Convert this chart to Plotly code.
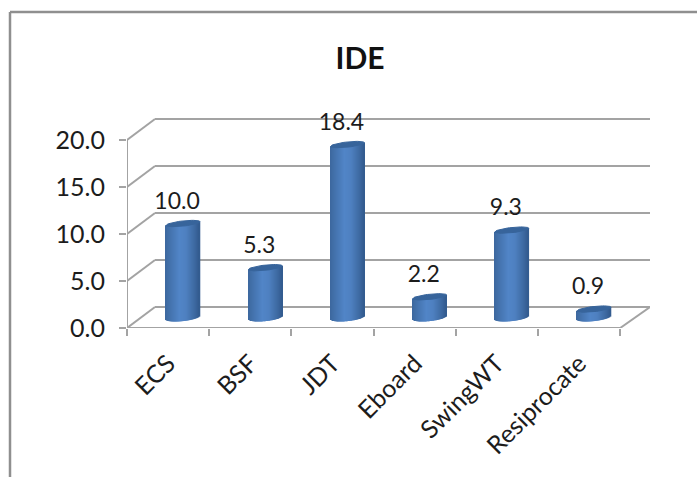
import math
import plotly.graph_objects as go

# Chart content
title = "IDE"
categories = ["ECS", "BSF", "JDT", "Eboard", "SwingWT", "Resiprocate"]
values = [10.0, 5.3, 18.4, 2.2, 9.3, 0.9]
value_ticks = [0, 5, 10, 15, 20]
value_tick_labels = ["0.0", "5.0", "10.0", "15.0", "20.0"]

# Page and plot geometry, in pixels
W, H = 697, 477
LEFT, RIGHT, TOP, BOTTOM = 127, 650, 118, 328
CELL_PX = 82.2           # width of one category
UNIT_PX = 9.4            # height of one value unit
DEPTH_X_PX, DEPTH_Y_PX = 28, 21
RADIUS_PX = 17.0         # cylinder half width
TOP_B_PX = 2.6           # minor half axis of the top cap
BASE_B_PX = 3.6          # minor half axis of the rounded foot
TILT = 0.105             # ends lean up to the right
COLUMN_SHIFT_PX = 15     # cylinders stand mid-way into the floor

dx = 1 / CELL_PX
dy = 1 / UNIT_PX
x_range = [-0.5, -0.5 + (RIGHT - LEFT) * dx]
y_range = [0, (BOTTOM - TOP) * dy]
n = len(categories)
floor_mid = DEPTH_Y_PX / 2 * dy


def shade(t):
    """Blue of the cylinder wall at t in 0..1 from left edge to right edge."""
    stops = [(0.0, (60, 103, 158)), (0.12, (66, 112, 170)), (0.42, (81, 133, 199)),
             (0.62, (78, 128, 192)), (0.86, (62, 106, 162)), (1.0, (50, 90, 142))]
    for (t0, c0), (t1, c1) in zip(stops, stops[1:]):
        if t <= t1:
            f = (t - t0) / (t1 - t0)
            return "rgb(%d,%d,%d)" % tuple(round(a + (b - a) * f) for a, b in zip(c0, c1))
    return "rgb(50,90,142)"


WIRE = "#a3a3a3"
shapes = []


def wire(x0, y0, x1, y1):
    shapes.append(dict(type="line", xref="x", yref="y", x0=x0, y0=y0, x1=x1, y1=y1,
                       layer="below", line=dict(color=WIRE, width=2)))


# Walls: each gridline runs back from the value axis, then along the back wall
back_x = -0.5 + DEPTH_X_PX * dx
back_right = x_range[1]
front_right = n - 0.5
for v in value_ticks:
    wire(-0.5, v, back_x, v + DEPTH_Y_PX * dy)
    wire(back_x, v + DEPTH_Y_PX * dy, back_right, v + DEPTH_Y_PX * dy)
wire(front_right, 0, back_right, DEPTH_Y_PX * dy)
wire(-0.5, 0, -0.5, value_ticks[-1])
wire(-0.5, 0, front_right, 0)

# Cylinder walls, as thin vertical strips that end on the lower ellipse edge
strip_x, strip_base, strip_h, strip_c = [], [], [], []
STRIPS = 34
for i, v in enumerate(values):
    cx = i + COLUMN_SHIFT_PX * dx
    for s in range(STRIPS):
        t = (s + 0.5) / STRIPS
        off = (2 * t - 1) * RADIUS_PX
        lean = TILT * off * dy
        sag = BASE_B_PX * math.sqrt(max(0, 1 - (off / RADIUS_PX) ** 2)) * dy
        strip_x.append(cx + off * dx)
        strip_base.append(floor_mid + lean - sag)
        strip_h.append(v + sag)
        strip_c.append(shade(t))

fig = go.Figure()
fig.add_trace(go.Bar(
    x=strip_x, y=strip_h, base=strip_base,
    width=[2 * RADIUS_PX / STRIPS * dx * 1.35] * len(strip_x),
    marker=dict(color=strip_c, line=dict(width=0)),
    hoverinfo="skip", showlegend=False,
))

# Dark top cap of every cylinder
for i, v in enumerate(values):
    cx = i + COLUMN_SHIFT_PX * dx
    px, py = [], []
    for k in range(49):
        a = 2 * math.pi * k / 48
        ox = RADIUS_PX * math.cos(a)
        oy = TOP_B_PX * math.sin(a) + TILT * ox
        px.append(cx + ox * dx)
        py.append(floor_mid + v + oy * dy)
    fig.add_trace(go.Scatter(
        x=px, y=py, mode="lines", fill="toself", fillcolor="#37649b",
        line=dict(color="#37649b", width=1), hoverinfo="skip", showlegend=False,
    ))

# Value labels above the cylinders
fig.add_trace(go.Scatter(
    x=[i + 9 * dx for i in range(n)],
    y=[floor_mid + v + 20.5 * dy for v in values],
    mode="text", text=["%.1f" % v for v in values], textposition="middle center",
    textfont=dict(family="Lato", size=23, color="#1c1c1c"),
    cliponaxis=False, hoverinfo="skip", showlegend=False,
))

# Outer frame, open at the right and bottom
fx = lambda p: (p - LEFT) / (RIGHT - LEFT)
fy = lambda p: (BOTTOM - p) / (BOTTOM - TOP)
for x0, y0, x1, y1 in [(10, 12, W, 12), (10, 12, 10, H)]:
    shapes.append(dict(type="line", xref="paper", yref="paper",
                       x0=fx(x0), y0=fy(y0), x1=fx(x1), y1=fy(y1),
                       layer="above", line=dict(color="#8f8f8f", width=2.5)))

fig.update_layout(
    width=W, height=H,
    margin=dict(l=LEFT, r=W - RIGHT, t=TOP, b=H - BOTTOM, autoexpand=False),
    paper_bgcolor="white", plot_bgcolor="rgba(0,0,0,0)",
    barmode="overlay", showlegend=False, shapes=shapes,
    font=dict(family="Lato", color="#1c1c1c"),
    title=dict(text="<b>%s</b>" % title, x=360 / W, xanchor="center",
               y=1 - 58 / H, yanchor="middle",
               font=dict(family="Lato", size=30, color="#111111")),
    xaxis=dict(
        range=x_range, showgrid=False, zeroline=False, showline=False,
        tickmode="array", tickvals=list(range(n)), ticktext=categories,
        tickangle=-45, ticks="", ticklabelstandoff=15,
        tickfont=dict(family="Lato", size=25),
        minor=dict(tickmode="array", tickvals=[i - 0.5 for i in range(n + 1)],
                   ticks="outside", ticklen=7, tickwidth=2, tickcolor=WIRE,
                   showgrid=False),
    ),
    yaxis=dict(
        range=y_range, showgrid=False, zeroline=False, showline=False,
        tickmode="array", tickvals=value_ticks, ticktext=value_tick_labels,
        ticks="outside", ticklen=7, tickwidth=2, tickcolor=WIRE,
        ticklabelstandoff=9, tickfont=dict(family="Lato", size=25),
    ),
)

fig.write_html("out.html", config=dict(displayModeBar=False))
